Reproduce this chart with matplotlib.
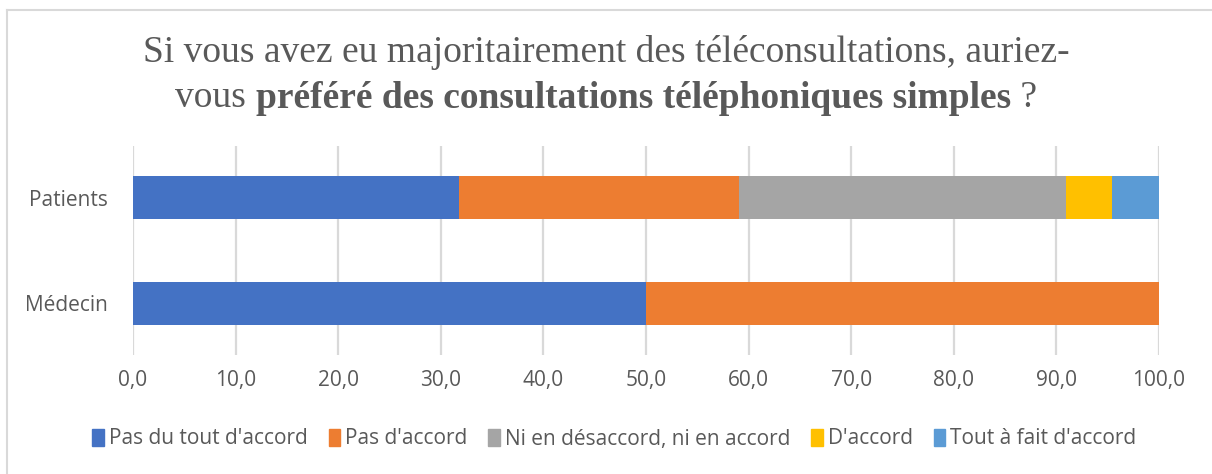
import matplotlib
matplotlib.use("Agg")
import matplotlib.pyplot as plt
from matplotlib.lines import Line2D

groups = ["Médecin", "Patients"]
categories = ["Pas du tout d'accord", "Pas d'accord", "Ni en désaccord, ni en accord",
              "D'accord", "Tout à fait d'accord"]
medecin = [50.0, 50.0, 0.0, 0.0, 0.0]
patients = [31.8, 27.3, 31.8, 4.5, 4.6]
colors = ["#4472C4", "#ED7D31", "#A5A5A5", "#FFC000", "#5B9BD5"]
ticks = [0, 10, 20, 30, 40, 50, 60, 70, 80, 90, 100]

txt = "#595959"
sans = "Open Sans"
serif = "Liberation Serif"
fsize = 15

fig = plt.figure(figsize=(12.12, 4.74), dpi=100)
ax = fig.add_axes([133 / 1212, 1 - 355 / 474, 1026 / 1212, 209 / 474])

vals = [medecin, patients]
for i in range(len(categories)):
    left = [sum(v[:i]) for v in vals]
    width = [v[i] for v in vals]
    ax.barh([0, 1], width, left=left, height=0.41, color=colors[i],
            label=categories[i], zorder=3)

ax.set_xlim(0, 100)
ax.set_ylim(-0.49, 1.49)
ax.set_xticks(ticks)
ax.set_xticklabels([f"{t:.1f}".replace(".", ",") for t in ticks])
ax.set_yticks([0, 1])
ax.set_yticklabels(groups)
ax.tick_params(length=0, labelsize=fsize, labelcolor=txt)
ax.tick_params(axis="x", pad=11)
ax.tick_params(axis="y", pad=18)
for lab in ax.get_xticklabels() + ax.get_yticklabels():
    lab.set_fontfamily(sans)
ax.grid(axis="x", color="#D9D9D9", linewidth=1.6, zorder=0)
for s in ax.spines.values():
    s.set_visible(False)

# legend
handles = [plt.Rectangle((0, 0), 1, 1, color=c) for c in colors]
fig.legend(handles, categories, loc="center", bbox_to_anchor=(0.507, 1 - 439 / 474),
           ncol=5, frameon=False, handlelength=0.55, handleheight=0.85,
           handletextpad=0.25, columnspacing=1.0,
           prop={"family": sans, "size": fsize}, labelcolor=txt)

# title, two lines, second one partly bold
tsize = 27
fig.text(0.5, 1 - 52 / 474, "Si vous avez eu majoritairement des téléconsultations, auriez-",
         ha="center", va="center", fontsize=tsize, family=serif, color=txt)
y2 = 1 - 98 / 474
parts = [("vous ", "normal"), ("préféré des consultations téléphoniques simples", "bold"),
         (" ?", "normal")]
fig.canvas.draw()
r = fig.canvas.get_renderer()
objs = []
for s, w in parts:
    t = fig.text(0, y2, s, ha="left", va="center", fontsize=tsize, family=serif,
                 color=txt, fontweight=w)
    objs.append(t)
widths = [t.get_window_extent(r).width / fig.bbox.width for t in objs]
x = 0.5 - sum(widths) / 2
for t, w in zip(objs, widths):
    t.set_x(x)
    x += w

# outer chart border
fig.add_artist(Line2D([6.5 / 1212, 1], [1 - 9.5 / 474] * 2, color="#D9D9D9", lw=1.5))
fig.add_artist(Line2D([6.5 / 1212] * 2, [0, 1 - 9.5 / 474], color="#D9D9D9", lw=1.5))

fig.savefig("out.png", dpi=100, facecolor="white")
